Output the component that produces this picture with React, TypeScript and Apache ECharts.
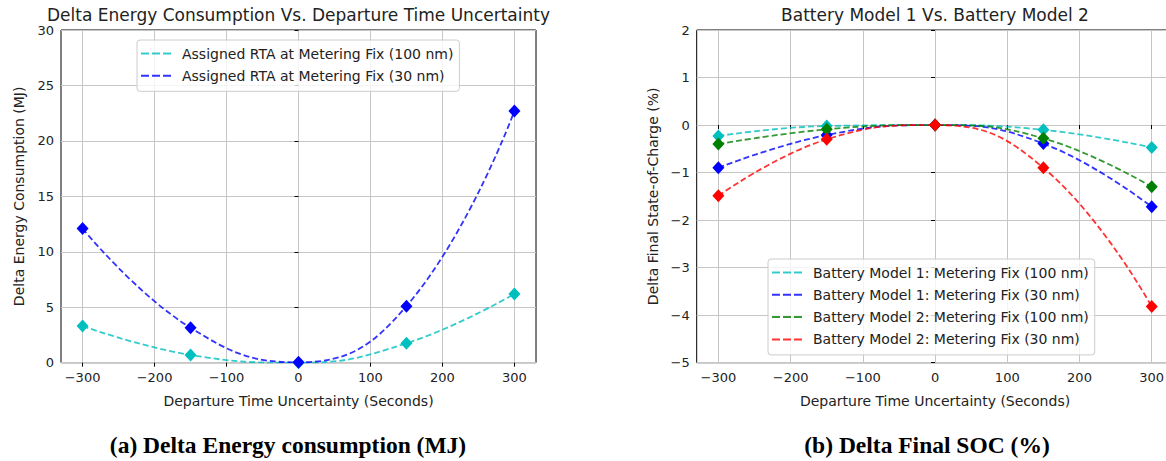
import React, { useEffect, useRef } from "react";
import * as echarts from "echarts";

// ---- data ----
const xValues = [-300, -150, 0, 150, 300];
const xTickValues = [-300, -200, -100, 0, 100, 200, 300];

const energyName100 = "Assigned RTA at Metering Fix (100 nm)";
const energyName30 = "Assigned RTA at Metering Fix (30 nm)";
const energy100 = [3.3, 0.7, 0.0, 1.75, 6.2];
const energy30 = [12.1, 3.15, 0.03, 5.1, 22.7];

const socName1_100 = "Battery Model 1: Metering Fix (100 nm)";
const socName1_30 = "Battery Model 1: Metering Fix (30 nm)";
const socName2_100 = "Battery Model 2: Metering Fix (100 nm)";
const socName2_30 = "Battery Model 2: Metering Fix (30 nm)";
const soc1_100 = [-0.23, -0.02, 0.0, -0.1, -0.47];
const soc1_30 = [-0.9, -0.21, 0.0, -0.39, -1.72];
const soc2_100 = [-0.4, -0.09, 0.0, -0.28, -1.3];
const soc2_30 = [-1.49, -0.3, 0.0, -0.9, -3.82];

const titleLeft = "Delta Energy Consumption Vs. Departure Time Uncertainty";
const titleRight = "Battery Model 1 Vs. Battery Model 2";
const captionLeft = "(a) Delta Energy consumption (MJ)";
const captionRight = "(b) Delta Final SOC (%)";
const xName = "Departure Time Uncertainty (Seconds)";
const yNameLeft = "Delta Energy Consumption (MJ)";
const yNameRight = "Delta Final State-of-Charge (%)";

const CYAN = "#00bfbf";
const BLUE = "#0000ff";
const GREEN = "#008000";
const RED = "#ff0000";

const FONT = "DejaVu Sans";
const TXT = "#222";
const DASH_ICON = "path://M0,6h8v2h-8z M11,6h8v2h-8z M22,6h8v2h-8z M0,0 M36,14";

const fmt = (v: number) => String(v).replace("-", "\u2212");

function makeXAxis(gridIndex: number) {
  return {
    type: "value",
    gridIndex,
    min: -330,
    max: 330,
    name: xName,
    nameLocation: "middle",
    nameGap: 31,
    nameTextStyle: { fontFamily: FONT, fontSize: 14, color: TXT },
    axisLine: { show: false },
    axisTick: { show: true, inside: false, length: 4, customValues: xTickValues, lineStyle: { color: "#000", width: 1 } },
    axisLabel: { customValues: xTickValues, formatter: fmt, fontFamily: FONT, fontSize: 13, color: TXT, margin: 8 },
    splitLine: { show: true, lineStyle: { color: "#c6c6c6", width: 1 } },
  };
}

function makeYAxis(gridIndex: number, min: number, max: number, interval: number, name: string, nameGap: number) {
  return {
    type: "value",
    gridIndex,
    min,
    max,
    interval,
    name,
    nameLocation: "middle",
    nameRotate: 90,
    nameGap,
    nameTextStyle: { fontFamily: FONT, fontSize: 14, color: TXT },
    axisLine: { show: false },
    axisTick: { show: true, inside: false, length: 4, lineStyle: { color: "#000", width: 1 } },
    axisLabel: { formatter: fmt, fontFamily: FONT, fontSize: 13, color: TXT, margin: 7 },
    splitLine: { show: true, lineStyle: { color: "#c6c6c6", width: 1 } },
  };
}

function makeSeries(name: string, values: number[], color: string, axisIndex: number) {
  return {
    type: "line",
    name,
    xAxisIndex: axisIndex,
    yAxisIndex: axisIndex,
    data: xValues.map((x, i) => [x, values[i]]),
    smooth: 0.45,
    symbol: "diamond",
    symbolSize: [12, 13],
    itemStyle: { color, opacity: 1 },
    lineStyle: { color, width: 1.8, type: [6, 3], opacity: 0.8 },
    z: 3,
  };
}

function makeLegend(names: string[], left: number, top: number) {
  return {
    data: names,
    orient: "vertical",
    left,
    top,
    icon: DASH_ICON,
    itemWidth: 36,
    itemHeight: 14,
    itemGap: 5.3,
    padding: [5, 6, 7, 4],
    backgroundColor: "rgba(255,255,255,0.8)",
    borderColor: "#cccccc",
    borderWidth: 1,
    borderRadius: 3,
    itemStyle: { borderWidth: 0, opacity: 0.8 },
    textStyle: { fontFamily: FONT, fontSize: 14, color: TXT, lineHeight: 17 },
    selectedMode: false,
  };
}

export default function App() {
  const ref = useRef<HTMLDivElement>(null);
  useEffect(() => {
    if (!ref.current) return;
    const chart = echarts.init(ref.current, undefined, { renderer: "svg" });
    chart.setOption({
      animation: false,
      backgroundColor: "#fff",
      grid: [
        { left: 61, top: 30, width: 475, height: 332.7, show: true, borderColor: "#000", borderWidth: 1, backgroundColor: "transparent" },
        { left: 696.7, top: 30, width: 476.7, height: 332.7, show: true, borderColor: "#000", borderWidth: 1, backgroundColor: "transparent" },
      ],
      xAxis: [makeXAxis(0), makeXAxis(1)],
      yAxis: [
        makeYAxis(0, 0, 30, 5, yNameLeft, 35),
        makeYAxis(1, -5, 2, 1, yNameRight, 37),
      ],
      legend: [
        makeLegend([energyName100, energyName30], 137, 40),
        makeLegend([socName1_100, socName1_30, socName2_100, socName2_30], 768, 259),
      ],
      series: [
        makeSeries(energyName100, energy100, CYAN, 0),
        makeSeries(energyName30, energy30, BLUE, 0),
        makeSeries(socName1_100, soc1_100, CYAN, 1),
        makeSeries(socName1_30, soc1_30, BLUE, 1),
        makeSeries(socName2_100, soc2_100, GREEN, 1),
        makeSeries(socName2_30, soc2_30, RED, 1),
      ],
      graphic: [
        { type: "text", x: 298.5, y: 15, style: { text: titleLeft, fontFamily: FONT, fontSize: 17, fill: TXT, textAlign: "center", textVerticalAlign: "middle" } },
        { type: "text", x: 935, y: 15, style: { text: titleRight, fontFamily: FONT, fontSize: 17, fill: TXT, textAlign: "center", textVerticalAlign: "middle" } },
        { type: "text", x: 288, y: 445, style: { text: captionLeft, fontFamily: "Liberation Serif", fontWeight: "bold", fontSize: 23.5, fill: "#000", textAlign: "center", textVerticalAlign: "middle" } },
        { type: "text", x: 927, y: 445, style: { text: captionRight, fontFamily: "Liberation Serif", fontWeight: "bold", fontSize: 23.5, fill: "#000", textAlign: "center", textVerticalAlign: "middle" } },
      ],
    });
    return () => chart.dispose();
  }, []);
  return (
    <div style={{ position: "fixed", left: 0, top: 0, width: 1166, height: 461, overflow: "hidden", background: "#fff" }}>
      <div ref={ref} style={{ width: 1200, height: 461 }} />
    </div>
  );
}
